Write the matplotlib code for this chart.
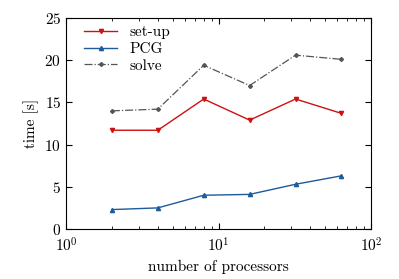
import matplotlib
matplotlib.use("Agg")
import matplotlib.pyplot as plt

plt.rcParams['font.family'] = 'serif'
plt.rcParams['font.serif'] = ['cmr10']
plt.rcParams['mathtext.fontset'] = 'cm'
plt.rcParams['axes.formatter.use_mathtext'] = True
plt.rcParams['axes.unicode_minus'] = False

procs = [2, 4, 8, 16, 32, 64]
setup = [11.7, 11.7, 15.4, 12.9, 15.4, 13.7]
pcg = [2.3, 2.5, 4.0, 4.1, 5.3, 6.3]
solve = [14.0, 14.2, 19.4, 17.0, 20.6, 20.1]

fig = plt.figure(figsize=(3.99, 2.79), dpi=100)
ax = fig.add_axes([66/399, 1-229/279, (371-66)/399, (229-18)/279])

ax.plot(procs, setup, color='#cc1111', lw=1.0, marker='v', ms=3, label='set-up')
ax.plot(procs, pcg, color='#1f5a9a', lw=1.0, marker='^', ms=3, label='PCG')
ax.plot(procs, solve, color='#555555', lw=0.9, ls='-.', marker='D', ms=2, label='solve')

ax.set_xscale('log')
ax.set_xlim(1, 100)
ax.set_ylim(0, 25)
ax.set_yticks([0, 5, 10, 15, 20, 25])
ax.tick_params(which='both', direction='in', top=True, right=True, labelsize=11)
ax.tick_params(which='major', length=4)
ax.tick_params(which='minor', length=2)
ax.tick_params(axis='x', pad=5)
for s in ax.spines.values():
    s.set_linewidth(0.8)
ax.set_xlabel('number of processors', fontsize=11)
ax.set_ylabel('time [s]', fontsize=11)
ax.legend(loc='upper left', bbox_to_anchor=(0.023, 1.015), frameon=False, fontsize=11,
          handlelength=2.2, borderaxespad=0.3, labelspacing=0.2)

fig.savefig('out.png', dpi=100)
